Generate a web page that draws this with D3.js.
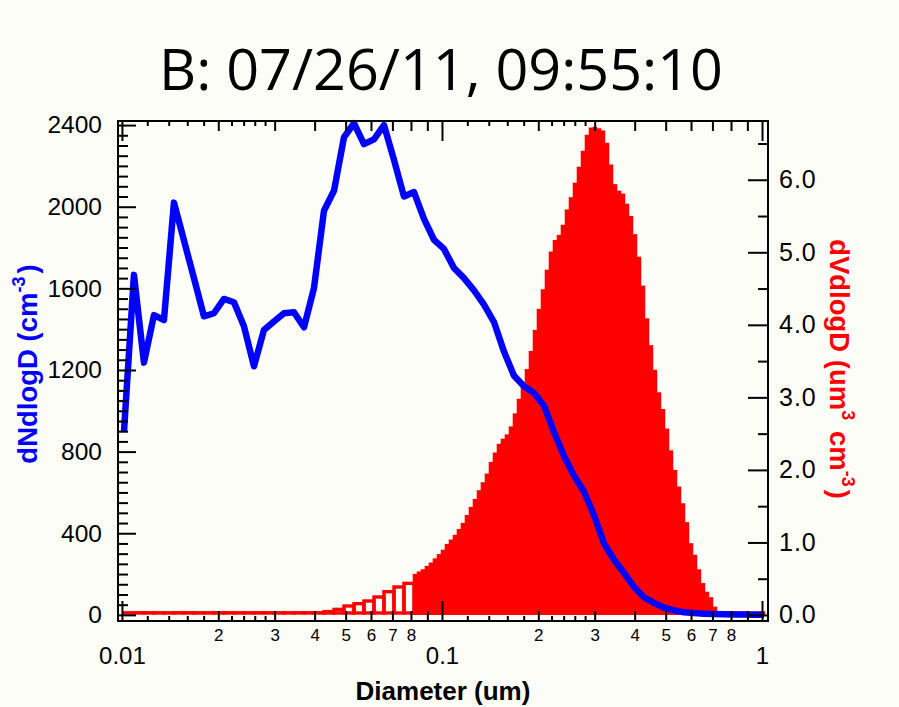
<!DOCTYPE html>
<html>
<head>
<meta charset="utf-8">
<script src="https://cdn.jsdelivr.net/npm/d3@7"></script>
<style>
  html, body { margin: 0; padding: 0; background: #fdfdf7; }
  svg { display: block; }
</style>
</head>
<body>
<svg id="chart" width="899" height="707"></svg>
<script>
// ---- Data -------------------------------------------------------------
const chartTitle = "B: 07/26/11, 09:55:10";

// SMPS channel grid: first channel diameter (um) and channels per decade
const smpsStart = 0.010145;
const smpsPerDecade = 32;

// Number size distribution dN/dlogD (cm^-3), one value per SMPS channel
const dNdlogD = [
  896, 1666, 1236, 1469, 1445, 2020, 1835, 1650, 1463, 1478,
  1548, 1532, 1414, 1218, 1396, 1438, 1478, 1483, 1409, 1601,
  1980, 2078, 2340, 2409, 2307, 2330, 2400, 2230, 2050, 2072,
  1940, 1838, 1793, 1700, 1650, 1590, 1520, 1435, 1290, 1172,
  1120, 1087, 1025, 895, 778, 682, 603, 488, 350, 270,
  205, 137, 86, 58, 36, 22, 13, 9, 6, 4,
  3, 2, 2, 1, 1
];

// Volume distribution dV/dlogD (um^3 cm^-3) on the SMPS channels (open bars)
const dVdlogDSmps = [
  0.03, 0.03, 0.03, 0.03, 0.03, 0.03, 0.03, 0.03, 0.03, 0.03,
  0.03, 0.03, 0.03, 0.03, 0.03, 0.03, 0.03, 0.03, 0.03, 0.03,
  0.046, 0.077, 0.124, 0.156, 0.193, 0.248, 0.321, 0.386, 0.436
];

// Optical counter bins: lower edge of first bin (um) and bins per decade
const opcStart = 0.0810;
const opcPerDecade = 80;

// Volume distribution dV/dlogD (um^3 cm^-3) on the optical bins (filled bars)
const dVdlogDOpc = [
  0.567, 0.60, 0.63, 0.677, 0.723, 0.78, 0.84, 0.90, 0.98, 1.04,
  1.106, 1.185, 1.27, 1.38, 1.49, 1.60, 1.72, 1.83, 1.95, 2.11,
  2.24, 2.36, 2.43, 2.49, 2.60, 2.78, 2.98, 3.19, 3.39, 3.64,
  3.93, 4.22, 4.49, 4.76, 5.01, 5.17, 5.24, 5.38, 5.59, 5.76,
  5.96, 6.18, 6.40, 6.62, 6.72, 6.73, 6.71, 6.68, 6.51, 6.21,
  5.94, 5.85, 5.81, 5.67, 5.50, 5.25, 4.94, 4.54, 4.09, 3.72,
  3.38, 3.07, 2.84, 2.57, 2.27, 2.00, 1.77, 1.54, 1.28, 0.99,
  0.83, 0.63, 0.44, 0.32, 0.245, 0.115,
  0.05, 0.05, 0.05, 0.05, 0.05, 0.05, 0.05, 0.05, 0.05, 0.05, 0.05, 0.05
];

// Axis ticks
const nMajorTicks = [0, 400, 800, 1200, 1600, 2000, 2400];
const nMinorTicks = d3.range(50, 2401, 50).filter(v => v % 400 !== 0);
const vMajorTicks = [0, 1, 2, 3, 4, 5, 6];
const vMinorTicks = [0.5, 1.5, 2.5, 3.5, 4.5, 5.5, 6.5];
const xDecadeTicks = [0.01, 0.1, 1];
const xDecadeLabels = ["0.01", "0.1", "1"];
const xLabeledTicks = [0.02, 0.03, 0.04, 0.05, 0.06, 0.07, 0.08, 0.2, 0.3, 0.4, 0.5, 0.6, 0.7, 0.8];
const xLabeledText = ["2", "3", "4", "5", "6", "7", "8", "2", "3", "4", "5", "6", "7", "8"];
const xPlainTicks = [0.09, 0.9];
const xSubTicks = [0.012, 0.014, 0.016, 0.018, 0.022, 0.024, 0.026, 0.028,
                   0.12, 0.14, 0.16, 0.18, 0.22, 0.24, 0.26, 0.28];

// ---- Layout -----------------------------------------------------------
const frame = { left: 118, right: 768, top: 121, bottom: 621 };
const labelFont = "'Liberation Sans', Arial, Helvetica, sans-serif";

const svg = d3.select("#chart");
svg.append("rect").attr("width", 899).attr("height", 707).attr("fill", "#fdfdf7");

const x = d3.scaleLog().domain([0.00972, 1.044]).range([frame.left, frame.right]);
const yN = d3.scaleLinear().domain([-30, 2420]).range([frame.bottom, frame.top]);
const yV = d3.scaleLinear().domain([-0.083, 6.81]).range([frame.bottom, frame.top]);

const smpsD = d3.range(dNdlogD.length + 1).map(i => smpsStart * Math.pow(10, i / smpsPerDecade));
const opcEdges = d3.range(dVdlogDOpc.length + 1).map(i => opcStart * Math.pow(10, i / opcPerDecade));

const plot = svg.append("g");

// Open (outlined) volume bars on the SMPS channels
const baseV = yV(0);
plot.append("g")
  .selectAll("rect")
  .data(dVdlogDSmps)
  .join("rect")
  .attr("x", (d, i) => x(smpsD[i]))
  .attr("width", (d, i) => x(smpsD[i + 1]) - x(smpsD[i]))
  .attr("y", d => yV(d))
  .attr("height", d => Math.max(0, baseV - 2 - yV(d)))
  .attr("fill", "none")
  .attr("stroke", "#ff0000")
  .attr("stroke-width", 3.4);

// Filled volume bars on the optical bins
plot.append("g")
  .selectAll("rect")
  .data(dVdlogDOpc)
  .join("rect")
  .attr("x", (d, i) => x(opcEdges[i]))
  .attr("width", (d, i) => x(opcEdges[i + 1]) - x(opcEdges[i]) + 0.5)
  .attr("y", d => yV(d))
  .attr("height", d => baseV - yV(d))
  .attr("fill", "#ff0000");

// Number distribution line
const numberLine = d3.line()
  .x((d, i) => x(smpsD[i]))
  .y(d => yN(d));

plot.append("path")
  .datum(dNdlogD)
  .attr("d", numberLine)
  .attr("fill", "none")
  .attr("stroke", "#0000ff")
  .attr("stroke-width", 6.5)
  .attr("stroke-linejoin", "round");

// ---- Axes -------------------------------------------------------------
function addAxis(gen, tx, ty) {
  const g = svg.append("g").attr("transform", `translate(${tx},${ty})`).call(gen);
  g.select(".domain").remove();
  g.selectAll(".tick line").attr("stroke", "#000").attr("stroke-width", 2);
  g.selectAll("text").attr("fill", "#000").attr("font-family", labelFont);
  return g;
}

// Left axis (dN/dlogD)
addAxis(d3.axisLeft(yN).tickValues(nMajorTicks).tickSize(-18).tickPadding(16).tickFormat(d3.format("d")),
        frame.left, 0)
  .selectAll("text").attr("font-size", 24.5);
addAxis(d3.axisLeft(yN).tickValues(nMinorTicks).tickSize(-10).tickFormat(""), frame.left, 0);

// Right axis (dV/dlogD)
addAxis(d3.axisRight(yV).tickValues(vMajorTicks).tickSize(-20).tickPadding(11).tickFormat(d3.format(".1f")),
        frame.right, 0)
  .selectAll("text").attr("font-size", 25).attr("letter-spacing", 1);
addAxis(d3.axisRight(yV).tickValues(vMinorTicks).tickSize(-10).tickFormat(""), frame.right, 0);

// Bottom axis (diameter, log)
addAxis(d3.axisBottom(x).tickValues(xDecadeTicks).tickSize(-20).tickPadding(26)
          .tickFormat((d, i) => xDecadeLabels[i]), 0, frame.bottom)
  .selectAll("text").attr("font-size", 24);
addAxis(d3.axisBottom(x).tickValues(xLabeledTicks).tickSize(-10).tickPadding(8)
          .tickFormat((d, i) => xLabeledText[i]), 0, frame.bottom)
  .selectAll("text").attr("font-size", 17);
addAxis(d3.axisBottom(x).tickValues(xPlainTicks).tickSize(-10).tickFormat(""), 0, frame.bottom);
addAxis(d3.axisBottom(x).tickValues(xSubTicks).tickSize(-5).tickFormat(""), 0, frame.bottom);

// Top mirror ticks
addAxis(d3.axisTop(x).tickValues(xDecadeTicks).tickSize(-20).tickFormat(""), 0, frame.top);
addAxis(d3.axisTop(x).tickValues(xLabeledTicks.concat(xPlainTicks)).tickSize(-10).tickFormat(""), 0, frame.top);
addAxis(d3.axisTop(x).tickValues(xSubTicks).tickSize(-5).tickFormat(""), 0, frame.top);

// Frame
svg.append("rect")
  .attr("x", frame.left).attr("y", frame.top)
  .attr("width", frame.right - frame.left).attr("height", frame.bottom - frame.top)
  .attr("fill", "none").attr("stroke", "#000").attr("stroke-width", 2);

// ---- Titles -----------------------------------------------------------
svg.append("text")
  .attr("x", 441).attr("y", 90)
  .attr("text-anchor", "middle")
  .attr("font-family", "'Open Sans', 'Noto Sans', sans-serif")
  .attr("font-size", 57.5)
  .attr("fill", "#000")
  .text(chartTitle);

svg.append("text")
  .attr("x", 443).attr("y", 700)
  .attr("text-anchor", "middle")
  .attr("font-family", labelFont)
  .attr("font-weight", "bold")
  .attr("font-size", 26)
  .attr("fill", "#000")
  .text("Diameter (um)");

const leftTitle = svg.append("text")
  .attr("transform", "translate(37,364) rotate(-90)")
  .attr("text-anchor", "middle")
  .attr("font-family", labelFont)
  .attr("font-weight", "bold")
  .attr("font-size", 27.5)
  .attr("fill", "#0000ff");
leftTitle.append("tspan").text("dNdlogD (cm");
leftTitle.append("tspan").attr("font-size", 18).attr("dy", -12).text("-3");
leftTitle.append("tspan").attr("dy", 12).attr("dx", 3).text(")");

const rightTitle = svg.append("text")
  .attr("transform", "translate(830,369) rotate(90)")
  .attr("text-anchor", "middle")
  .attr("font-family", labelFont)
  .attr("font-weight", "bold")
  .attr("font-size", 27.5)
  .attr("fill", "#ff0000");
rightTitle.append("tspan").text("dVdlogD (um");
rightTitle.append("tspan").attr("font-size", 18).attr("dy", -12).text("3");
rightTitle.append("tspan").attr("dy", 12).attr("dx", 3).text(" cm");
rightTitle.append("tspan").attr("font-size", 18).attr("dy", -12).text("-3");
rightTitle.append("tspan").attr("dy", 12).attr("dx", 3).text(")");
</script>
</body>
</html>
